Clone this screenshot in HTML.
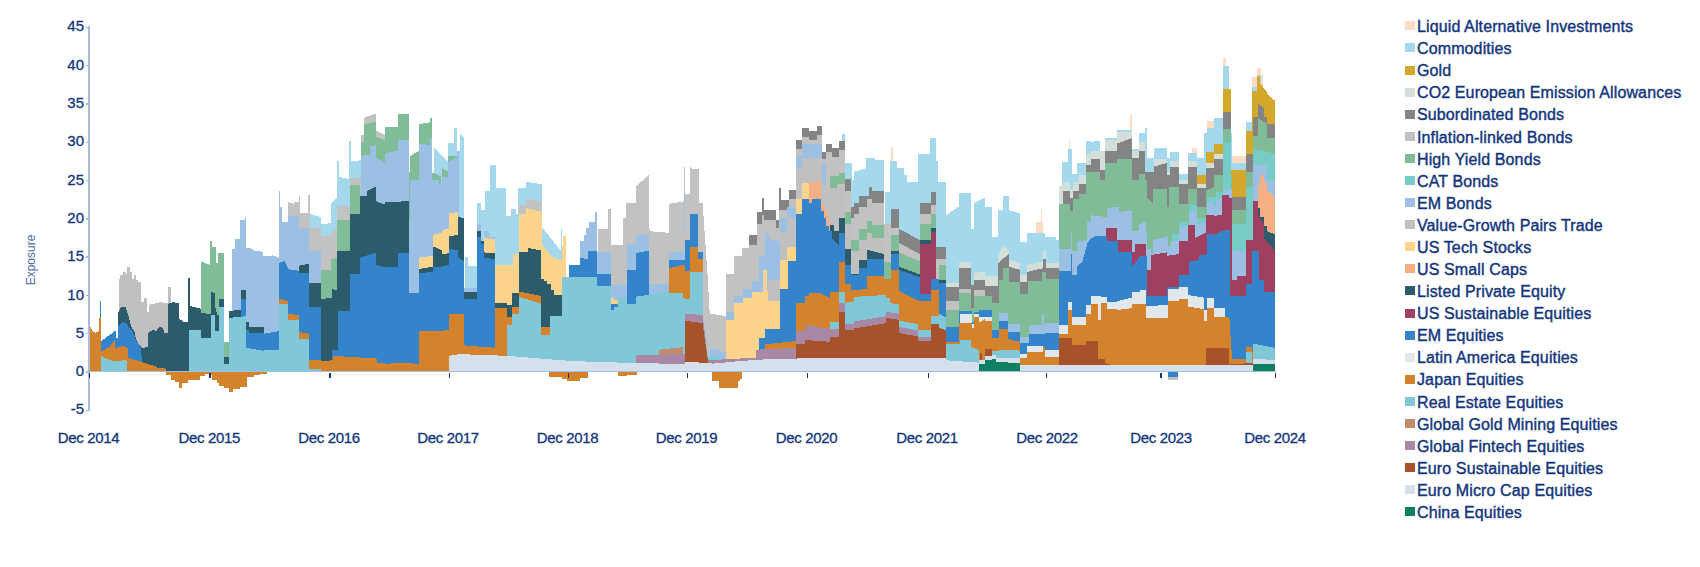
<!DOCTYPE html>
<html lang="en"><head><meta charset="utf-8"><title>Exposure</title>
<style>
html,body{margin:0;padding:0;background:#fff;}
body{width:1700px;height:567px;overflow:hidden;position:relative;font-family:"Liberation Sans",Arial,sans-serif;color:#12357c;}
svg{position:absolute;left:0;top:0;}
.lg{position:absolute;left:1405px;font-size:16px;line-height:22px;white-space:nowrap;height:22px;-webkit-text-stroke:0.4px #12357c;letter-spacing:0.12px;}
.lg i{position:absolute;left:0.2px;top:5.4px;width:9.6px;height:9px;display:block;}
.lg span{position:absolute;left:12px;top:0;}
.yl{position:absolute;width:84px;left:0;text-align:right;font-size:15px;line-height:16px;height:16px;-webkit-text-stroke:0.3px #12357c;}
.xl{position:absolute;width:120px;text-align:center;font-size:15px;line-height:16px;top:430px;-webkit-text-stroke:0.3px #12357c;letter-spacing:-0.35px;}
.ex{position:absolute;left:-19px;top:254px;width:100px;text-align:center;font-size:12px;line-height:12px;color:#4a6aa4;transform:rotate(-90deg);}
</style></head><body>
<svg width="1700" height="567" viewBox="0 0 1700 567" shape-rendering="crispEdges">
<path fill="#fcdcc4" d="M1036.2,372.0L1036.2,222.4L1041.1,222.4L1041.1,210.0L1042.4,210.0L1042.4,222.4L1043.2,222.4L1043.2,372.0Z"/>
<path fill="#fcdcc4" d="M1068.6,372.0L1068.6,140.0L1070.1,140.0L1070.1,372.0ZM1129.7,372.0L1129.7,115.3L1131.5,115.3L1131.5,372.0ZM1191.5,372.0L1191.5,147.9L1196.8,147.9L1196.8,372.0ZM1207.4,372.0L1207.4,120.6L1214.4,120.6L1214.4,372.0ZM1223.4,372.0L1223.4,57.6L1225.9,57.6L1225.9,66.4L1229.2,66.4L1229.2,372.0ZM1232.1,372.0L1232.1,155.9L1246.2,155.9L1246.2,372.0ZM1252.4,372.0L1252.4,77.0L1256.8,77.0L1256.8,68.2L1261.2,68.2L1261.2,74.7L1262.9,74.7L1262.9,372.0Z"/>
<path fill="#fcdcc4" d="M890.8,372.0L890.8,147.1L892.5,147.1L892.5,372.0Z"/>
<path fill="#a4d8ec" d="M309.1,372.0L309.1,213.5L320.6,217.1L320.6,372.0Z"/>
<path fill="#a4d8ec" d="M320.9,372.0L320.9,224.1L331.2,223.2L331.2,203.8L337.4,197.6L337.4,372.0Z"/>
<path fill="#a4d8ec" d="M336.5,372.0L336.5,161.2L338.5,161.2L338.5,176.7L348.5,178.8L348.5,141.4L350.6,141.4L350.6,161.5L360.5,160.3L360.5,143.5L363.5,143.5L363.5,372.0Z"/>
<path fill="#a4d8ec" d="M434.1,372.0L434.1,147.1L442.1,155.9L448.2,161.2L448.2,142.6L454.4,142.6L454.4,127.6L457.1,127.6L457.1,150.6L459.7,150.6L459.7,133.8L464.1,137.4L464.1,372.0Z"/>
<path fill="#a4d8ec" d="M489.7,372.0L489.7,164.7L495.9,164.7L495.9,372.0Z"/>
<path fill="#a4d8ec" d="M465.3,372.0L465.3,256.8L467.9,256.8L467.9,265.9L476.8,265.9L476.8,202.9L481.2,202.9L481.2,210.0L484.7,210.0L484.7,190.6L490.0,190.6L490.0,180.0L495.3,180.0L495.3,187.9L505.9,187.9L505.9,216.2L511.2,216.2L511.2,209.1L515.6,209.1L515.6,213.5L518.2,213.5L518.2,187.9L526.2,187.9L526.2,181.8L542.1,184.4L542.1,227.6L550.9,238.2L560.6,250.6L560.6,229.4L561.5,229.4L561.5,372.0Z"/>
<path fill="#a4d8ec" d="M946.2,372.0L946.2,215.3L958.5,206.5L958.5,193.2L970.9,193.2L970.9,229.4L974.4,229.4L974.4,202.9L985.0,197.6L985.0,372.0Z"/>
<path fill="#a4d8ec" d="M842.1,372.0L842.1,133.8L844.7,133.8L844.7,162.9L851.8,162.9L851.8,180.1L854.4,180.1L854.4,171.8L865.9,168.2L865.9,157.6L874.7,157.6L874.7,160.3L884.4,160.3L884.4,372.0ZM889.7,372.0L889.7,161.2L896.8,161.2L896.8,168.2L903.8,168.2L903.8,175.3L907.4,175.3L907.4,182.4L917.9,182.4L917.9,154.1L930.3,154.1L930.3,138.2L935.6,138.2L935.6,161.2L938.2,161.2L938.2,182.4L946.2,182.4L946.2,372.0Z"/>
<path fill="#a4d8ec" d="M985.0,372.0L985.0,206.5L992.1,206.5L992.1,237.4L998.2,237.4L998.2,210.0L1002.6,210.0L1002.6,195.9L1008.8,195.9L1008.8,210.0L1020.3,213.5L1020.3,241.8L1027.4,241.8L1027.4,232.9L1045.0,232.9L1045.0,236.5L1055.6,236.5L1055.6,240.0L1059.1,240.0L1059.1,372.0Z"/>
<path fill="#a4d8ec" d="M1061.8,372.0L1061.8,162.1L1067.9,162.1L1067.9,148.8L1071.5,148.8L1071.5,173.5L1076.8,173.5L1076.8,162.9L1085.6,162.9L1085.6,140.9L1090.9,140.9L1090.9,141.8L1099.7,140.9L1099.7,150.6L1105.0,150.6L1105.0,138.2L1117.4,138.2L1117.4,130.3L1131.5,130.3L1131.5,148.8L1138.5,148.8L1138.5,132.9L1144.7,132.9L1144.7,127.6L1147.4,127.6L1147.4,157.6L1154.4,157.6L1154.4,147.9L1166.8,147.9L1166.8,157.6L1170.3,157.6L1170.3,152.4L1179.1,152.4L1179.1,173.5L1187.9,173.5L1187.9,153.2L1196.8,153.2L1196.8,157.6L1203.8,157.6L1203.8,132.9L1207.4,132.9L1207.4,127.6L1214.4,127.6L1214.4,117.9L1223.4,117.9L1223.4,66.4L1229.2,66.4L1229.2,89.4L1230.6,89.4L1230.6,132.9L1232.1,132.9L1232.1,162.9L1246.2,162.9L1246.2,121.5L1251.5,121.5L1251.5,87.1L1256.8,87.1L1256.8,75.2L1261.2,75.2L1261.2,372.0Z"/>
<path fill="#a4d8ec" d="M884.9,372.0L884.9,192.4L890.2,192.4L890.2,372.0Z"/>
<path fill="#d4a82c" d="M1196.8,372.0L1196.8,175.3L1205.6,175.3L1205.6,152.4L1214.4,152.4L1214.4,144.4L1223.2,144.4L1223.2,89.4L1230.6,89.4L1230.6,170.0L1246.2,170.0L1246.2,131.2L1251.5,131.2L1251.5,90.6L1256.8,90.6L1256.8,76.3L1260.3,76.3L1260.3,83.5L1267.4,92.4L1267.4,94.1L1275.3,101.2L1275.3,372.0Z"/>
<path fill="#d3dfd8" d="M946.2,372.0L946.2,282.6L959.4,282.6L959.4,372.0Z"/>
<path fill="#d3dfd8" d="M959.4,372.0L959.4,262.1L970.9,262.1L970.9,372.0ZM974.4,372.0L974.4,273.5L985.0,270.9L985.0,372.0Z"/>
<path fill="#d3dfd8" d="M985.0,372.0L985.0,276.2L998.2,276.2L998.2,254.1L1004.4,245.3L1008.8,250.6L1008.8,259.4L1020.3,262.9L1020.3,275.3L1027.4,275.3L1027.4,264.7L1043.2,261.2L1043.2,250.6L1045.9,250.6L1045.9,262.9L1059.1,262.9L1059.1,372.0Z"/>
<path fill="#d3dfd8" d="M1059.1,372.0L1059.1,185.9L1062.6,185.9L1062.6,182.4L1069.7,182.4L1069.7,189.4L1073.2,189.4L1073.2,182.4L1078.5,182.4L1078.5,175.3L1085.6,175.3L1085.6,154.1L1090.9,154.1L1090.9,150.6L1105.0,150.6L1105.0,140.0L1117.4,140.0L1117.4,132.1L1131.5,132.1L1131.5,150.6L1138.5,150.6L1138.5,141.8L1144.7,141.8L1144.7,171.8L1154.4,171.8L1154.4,159.4L1166.8,159.4L1166.8,171.8L1170.3,171.8L1170.3,161.2L1179.1,161.2L1179.1,180.1L1187.9,180.1L1187.9,161.2L1196.8,161.2L1196.8,184.1L1205.6,184.1L1205.6,162.9L1214.4,162.9L1214.4,154.1L1223.2,154.1L1223.2,372.0Z"/>
<path fill="#848484" d="M946.2,372.0L946.2,287.1L959.4,287.1L959.4,372.0ZM971.2,372.0L971.2,285.3L973.9,285.3L973.9,372.0Z"/>
<path fill="#848484" d="M974.4,372.0L974.4,279.7L985.0,279.7L985.0,372.0Z"/>
<path fill="#848484" d="M748.5,372.0L748.5,235.1L757.4,235.1L757.4,211.8L761.8,211.8L761.8,197.6L764.4,197.6L764.4,209.6L775.9,209.6L775.9,220.2L779.4,220.2L779.4,187.9L781.2,187.9L781.2,199.8L789.1,199.8L789.1,189.7L796.2,189.7L796.2,372.0ZM844.7,372.0L844.7,178.8L850.9,178.8L850.9,206.5L854.4,206.5L854.4,202.9L858.8,202.9L858.8,195.9L868.5,195.9L868.5,187.1L872.1,187.1L872.1,190.6L884.4,190.6L884.4,372.0ZM890.6,372.0L890.6,209.1L898.5,209.1L898.5,228.5L919.7,240.0L919.7,202.9L931.2,202.9L931.2,191.5L935.6,191.5L935.6,247.1L946.2,247.1L946.2,372.0ZM959.4,372.0L959.4,268.2L970.9,268.2L970.9,372.0Z"/>
<path fill="#848484" d="M796.2,372.0L796.2,140.0L801.5,140.0L801.5,127.6L808.5,127.6L808.5,131.2L816.5,131.2L816.5,125.9L821.8,125.9L821.8,152.4L826.2,152.4L826.2,143.5L831.5,143.5L831.5,147.9L838.5,147.9L838.5,140.9L844.7,140.9L844.7,372.0Z"/>
<path fill="#848484" d="M985.0,372.0L985.0,285.9L998.2,285.9L998.2,262.9L1008.8,254.1L1008.8,266.5L1020.3,270.0L1020.3,282.4L1027.4,282.4L1027.4,271.8L1043.2,268.2L1043.2,259.4L1045.9,259.4L1045.9,268.2L1059.1,268.2L1059.1,372.0Z"/>
<path fill="#848484" d="M1062.6,372.0L1062.6,190.6L1069.7,190.6L1069.7,197.7L1073.2,197.7L1073.2,190.6L1078.5,190.6L1078.5,183.6L1085.6,183.6L1085.6,164.7L1090.9,164.7L1090.9,159.4L1099.7,159.4L1099.7,170.0L1105.0,170.0L1105.0,150.6L1117.4,150.6L1117.4,143.5L1131.5,138.2L1131.5,157.6L1138.5,157.6L1138.5,150.6L1144.7,150.6L1144.7,171.8L1154.4,171.8L1154.4,166.5L1166.8,162.9L1166.8,175.3L1170.3,175.3L1170.3,166.5L1179.1,166.5L1179.1,183.6L1187.9,183.6L1187.9,166.5L1196.8,166.5L1196.8,188.0L1205.6,188.0L1205.6,168.2L1214.4,168.2L1214.4,159.4L1223.2,159.4L1223.2,111.8L1231.2,111.8L1231.2,178.8L1232.1,178.8L1232.1,196.8L1246.2,196.8L1246.2,154.1L1253.2,154.1L1253.2,117.1L1257.6,117.1L1257.6,102.9L1263.8,108.2L1263.8,117.1L1267.4,117.1L1267.4,124.1L1275.3,124.1L1275.3,372.0Z"/>
<path fill="#c2c2c2" d="M287.9,372.0L287.9,202.1L294.1,203.8L294.1,202.1L298.9,202.1L298.9,195.9L300.3,195.9L300.3,212.6L307.7,213.5L307.7,195.0L309.5,195.0L309.5,227.6L320.6,227.6L320.6,372.0Z"/>
<path fill="#c2c2c2" d="M320.9,372.0L320.9,236.5L331.2,234.7L331.2,232.9L337.4,227.6L337.4,205.6L349.7,205.6L349.7,372.0Z"/>
<path fill="#c2c2c2" d="M349.8,372.0L349.8,178.3L360.5,178.3L360.5,134.7L363.5,134.7L363.5,117.9L375.9,113.5L375.9,130.3L384.7,134.7L384.7,372.0Z"/>
<path fill="#c2c2c2" d="M519.1,372.0L519.1,204.7L526.2,204.7L526.2,198.5L542.1,202.1L542.1,372.0ZM597.6,372.0L597.6,228.5L608.2,228.5L608.2,209.1L610.5,209.1L610.5,245.3L623.2,245.3L623.2,217.9L625.9,217.9L625.9,202.9L635.6,202.9L635.6,186.5L648.8,175.1L648.8,228.5L649.7,228.5L649.7,231.2L669.1,232.9L669.1,203.8L685.0,201.2L685.0,372.0Z"/>
<path fill="#c2c2c2" d="M707.9,372.0L707.9,280.0L709.7,313.5L725.6,316.2L725.6,274.4L727.4,274.4L727.4,372.0Z"/>
<path fill="#c2c2c2" d="M946.2,372.0L946.2,301.2L959.4,301.2L959.4,289.2L970.9,289.2L970.9,372.0Z"/>
<path fill="#c2c2c2" d="M973.9,372.0L973.9,290.1L985.0,290.1L985.0,372.0Z"/>
<path fill="#c2c2c2" d="M685.0,372.0L685.0,194.1L690.3,194.1L690.3,169.4L699.1,169.4L699.1,202.9L702.6,202.9L707.9,280.1L707.9,372.0ZM727.4,372.0L727.4,274.4L734.4,274.4L734.4,255.9L741.5,255.9L741.5,247.9L748.5,247.9L748.5,244.9L757.4,244.9L757.4,224.1L761.8,224.1L761.8,215.3L764.4,215.3L764.4,220.2L775.9,220.2L775.9,227.6L779.4,227.6L779.4,210.0L789.1,210.0L789.1,199.4L796.2,199.4L796.2,372.0ZM844.7,372.0L844.7,190.6L850.9,190.6L850.9,217.9L854.4,217.9L854.4,213.5L858.8,213.5L858.8,206.5L866.8,206.5L866.8,199.4L872.1,199.4L872.1,202.9L884.4,202.9L884.4,224.1L890.6,224.1L890.6,227.6L898.5,227.6L898.5,242.6L919.7,254.1L919.7,214.4L931.2,214.4L931.2,204.7L935.6,204.7L935.6,258.5L946.2,258.5L946.2,372.0Z"/>
<path fill="#c2c2c2" d="M690.3,372.0L690.3,167.4L699.1,171.8L699.1,372.0Z"/>
<path fill="#c2c2c2" d="M796.2,372.0L796.2,148.8L801.5,148.8L801.5,136.5L808.5,136.5L808.5,140.0L816.5,140.0L816.5,134.7L821.8,134.7L821.8,159.4L826.2,159.4L826.2,152.4L831.5,152.4L831.5,156.8L838.5,156.8L838.5,149.7L844.7,149.7L844.7,372.0Z"/>
<path fill="#c2c2c2" d="M683.8,191.0L683.8,167.1L684.8,167.1L684.8,191.0Z"/>
<path fill="#80bc98" d="M223.5,356.8L223.5,341.8L229.1,341.8L229.1,356.8Z"/>
<path fill="#80bc98" d="M200.6,372.0L200.6,261.2L209.4,264.7L210.3,264.7L210.3,240.9L211.7,240.9L211.7,247.1L215.6,247.1L215.6,262.9L218.2,262.9L218.2,253.2L223.5,253.2L223.5,257.6L224.4,257.6L224.4,372.0Z"/>
<path fill="#80bc98" d="M320.9,372.0L320.9,270.0L331.2,270.0L331.2,259.4L337.4,257.6L337.4,219.7L349.7,219.7L349.7,185.3L360.3,185.3L360.3,372.0Z"/>
<path fill="#80bc98" d="M360.9,372.0L360.9,141.8L363.5,141.8L363.5,125.0L375.9,121.5L375.9,136.5L384.7,140.0L384.7,126.8L397.9,126.8L397.9,114.4L408.5,114.4L408.5,171.8L410.3,171.8L410.3,155.9L419.1,150.6L419.1,124.1L429.7,122.4L429.7,117.9L432.4,117.9L432.4,172.6L441.2,176.2L441.2,372.0Z"/>
<path fill="#80bc98" d="M442.1,372.0L442.1,168.2L448.2,171.8L448.2,155.9L457.1,155.9L457.1,372.0Z"/>
<path fill="#80bc98" d="M946.2,372.0L946.2,310.0L959.4,310.0L959.4,293.2L971.2,293.2L971.2,307.7L973.9,307.7L973.9,296.2L985.0,296.2L985.0,372.0Z"/>
<path fill="#80bc98" d="M844.7,372.0L844.7,211.8L850.9,211.8L850.9,240.0L858.8,240.0L858.8,229.4L866.8,229.4L866.8,220.6L872.1,220.6L872.1,225.0L884.4,225.0L884.4,262.1L890.6,262.1L890.6,234.7L898.5,234.7L898.5,252.4L919.7,261.2L919.7,224.1L931.2,224.1L931.2,213.5L935.6,213.5L935.6,372.0ZM939.1,372.0L939.1,264.7L946.2,264.7L946.2,372.0Z"/>
<path fill="#80bc98" d="M829.7,372.0L829.7,176.2L838.5,176.2L838.5,172.6L844.7,172.6L844.7,372.0Z"/>
<path fill="#80bc98" d="M985.0,372.0L985.0,296.3L992.1,296.3L992.1,303.4L999.1,303.4L999.1,280.1L1002.6,280.1L1002.6,268.2L1008.8,268.2L1008.8,281.5L1020.3,281.5L1020.3,294.2L1028.2,294.2L1028.2,280.6L1041.5,280.6L1041.5,271.8L1045.9,271.8L1045.9,278.8L1059.1,278.8L1059.1,372.0Z"/>
<path fill="#80bc98" d="M1059.1,372.0L1059.1,203.8L1069.7,203.8L1069.7,210.9L1073.2,210.9L1073.2,199.4L1078.5,199.4L1078.5,194.1L1085.6,194.1L1085.6,171.7L1099.7,171.7L1099.7,180.0L1105.0,180.0L1105.0,162.9L1117.4,162.9L1117.4,158.5L1131.5,158.5L1131.5,180.0L1138.5,180.0L1138.5,173.5L1144.7,173.5L1144.7,180.0L1147.4,180.0L1147.4,197.6L1152.6,202.9L1152.6,188.8L1166.8,188.8L1166.8,206.5L1168.5,206.5L1168.5,187.1L1179.1,187.1L1179.1,203.8L1187.9,203.8L1187.9,188.8L1196.8,188.8L1196.8,206.5L1205.6,206.5L1205.6,190.6L1214.4,187.1L1214.4,175.2L1223.2,175.2L1223.2,129.4L1231.2,129.4L1231.2,175.2L1232.1,175.2L1232.1,210.0L1246.2,210.0L1246.2,171.7L1253.2,171.7L1253.2,136.4L1257.6,136.4L1257.6,117.9L1267.4,124.1L1267.4,138.2L1275.3,138.2L1275.3,372.0Z"/>
<path fill="#78ccc8" d="M1172.1,372.0L1172.1,233.8L1179.1,233.8L1179.1,221.5L1188.8,221.5L1188.8,204.7L1196.8,204.7L1196.8,217.9L1206.5,217.9L1206.5,196.8L1216.2,196.8L1216.2,192.4L1223.2,192.4L1223.2,141.7L1231.2,141.7L1231.2,224.1L1246.2,224.1L1246.2,187.1L1253.2,187.1L1253.2,148.8L1275.3,154.1L1275.3,372.0Z"/>
<path fill="#9cc0e4" d="M231.5,372.0L231.5,248.8L235.0,248.8L235.0,239.1L240.3,239.1L240.3,219.7L244.7,219.7L244.7,217.1L245.9,217.1L245.9,247.9L250.0,247.9L254.4,250.6L261.5,251.5L263.2,251.5L263.2,255.9L268.5,255.9L272.1,255.9L272.1,255.0L278.6,257.6L278.6,190.6L280.0,190.6L280.0,206.5L281.8,206.5L281.8,221.5L287.9,222.4L287.9,216.2L299.4,216.2L299.4,227.6L309.1,227.6L309.1,250.6L320.6,250.6L320.6,372.0Z"/>
<path fill="#9cc0e4" d="M360.9,372.0L360.9,155.9L363.5,155.9L363.5,155.0L369.7,155.0L369.7,146.2L375.9,145.3L375.9,157.6L384.7,162.9L384.7,153.2L397.9,150.6L397.9,140.0L408.5,140.0L408.5,220.6L409.9,220.6L409.9,180.1L419.1,180.1L419.1,143.5L429.7,145.3L429.7,138.2L432.4,138.2L432.4,180.1L438.5,180.1L438.5,184.1L442.1,184.1L442.1,177.1L448.2,177.1L448.2,162.1L457.1,157.6L457.1,150.6L458.8,150.6L458.8,372.0Z"/>
<path fill="#9cc0e4" d="M464.4,372.0L464.4,287.9L476.8,287.9L476.8,372.0Z"/>
<path fill="#9cc0e4" d="M476.8,372.0L476.8,224.1L481.2,224.1L481.2,240.9L483.8,240.9L483.8,231.2L489.1,231.2L489.1,237.4L495.3,237.4L495.3,372.0ZM580.0,372.0L580.0,240.9L583.5,240.9L583.5,234.7L586.2,234.7L586.2,227.6L588.8,227.6L588.8,222.4L595.0,222.4L595.0,211.8L596.8,211.8L596.8,252.4L610.5,252.4L610.5,284.5L626.8,284.5L626.8,243.5L635.6,243.5L635.6,234.7L648.8,234.7L648.8,283.6L669.1,283.6L669.1,253.2L685.0,250.6L685.0,372.0Z"/>
<path fill="#9cc0e4" d="M709.7,372.0L709.7,348.8L718.5,348.8L718.5,351.5L725.6,351.5L725.6,311.8L734.4,311.8L734.4,295.9L743.2,295.9L743.2,288.8L752.1,288.8L752.1,280.9L762.6,280.9L762.6,372.0Z"/>
<path fill="#9cc0e4" d="M752.1,372.0L752.1,280.9L759.1,280.9L759.1,255.9L765.3,255.9L765.3,232.9L768.8,232.9L768.8,238.2L780.3,241.8L780.3,217.9L787.4,217.9L787.4,206.5L796.2,206.5L796.2,372.0Z"/>
<path fill="#9cc0e4" d="M796.2,372.0L796.2,155.9L801.5,155.9L801.5,144.4L821.8,144.4L821.8,162.9L826.2,162.9L826.2,372.0Z"/>
<path fill="#9cc0e4" d="M999.1,372.0L999.1,312.6L1007.9,312.6L1007.9,324.1L1020.3,324.1L1020.3,336.5L1029.1,336.5L1029.1,325.0L1041.5,325.0L1041.5,314.4L1044.1,314.4L1044.1,325.0L1045.0,325.0L1045.0,323.2L1059.1,323.2L1059.1,372.0Z"/>
<path fill="#9cc0e4" d="M1059.1,372.0L1059.1,248.8L1070.6,248.8L1070.6,232.9L1072.4,232.9L1072.4,250.6L1076.8,250.6L1076.8,241.8L1087.4,240.0L1087.4,221.5L1090.9,221.5L1090.9,215.3L1106.8,217.1L1106.8,208.2L1119.1,206.5L1119.1,211.8L1132.4,210.9L1132.4,231.2L1138.5,231.2L1138.5,224.1L1142.1,224.1L1142.1,222.4L1145.6,222.4L1145.6,232.9L1146.5,232.9L1146.5,248.8L1150.9,248.8L1150.9,254.1L1152.6,254.1L1152.6,240.0L1166.8,236.5L1166.8,234.7L1167.6,234.7L1167.6,247.1L1170.3,247.1L1170.3,241.8L1179.1,240.0L1179.1,227.6L1188.8,225.9L1188.8,211.8L1196.8,210.9L1196.8,224.1L1206.5,222.4L1206.5,202.9L1214.4,202.1L1214.4,205.6L1216.2,205.6L1216.2,199.4L1223.2,198.5L1223.2,190.6L1232.1,188.8L1232.1,250.6L1246.2,250.6L1246.2,372.0ZM1253.2,372.0L1253.2,164.6L1267.4,164.6L1267.4,180.0L1275.3,180.0L1275.3,372.0Z"/>
<path fill="#9cc0e4" d="M683.8,227.6L683.8,190.6L684.8,190.6L684.8,227.6Z"/>
<path fill="#c0c0c0" d="M118.5,372.0L118.5,278.8L120.3,278.8L120.3,275.3L122.9,275.3L122.9,271.8L125.6,271.8L125.6,274.4L127.4,274.4L127.4,267.4L130.0,267.4L130.0,271.8L131.8,271.8L131.8,278.8L134.4,278.8L134.4,275.3L136.2,275.3L136.2,279.7L137.9,279.7L137.9,282.4L141.1,282.4L141.1,301.8L144.1,301.8L144.1,298.2L146.8,298.2L146.8,312.4L148.5,312.4L148.5,304.8L159.1,302.6L159.1,302.1L167.9,303.5L167.9,287.1L170.6,287.1L170.6,372.0Z"/>
<path fill="#c0c0c0" d="M767.9,372.0L767.9,280.1L780.3,280.1L780.3,232.1L787.4,232.1L787.4,217.9L796.2,217.9L796.2,372.0ZM844.7,372.0L844.7,224.1L850.9,224.1L850.9,250.6L858.8,250.6L858.8,240.0L866.8,240.0L866.8,232.9L872.1,232.9L872.1,238.2L884.4,238.2L884.4,372.0Z"/>
<path fill="#c0c0c0" d="M796.2,372.0L796.2,168.2L801.5,168.2L801.5,157.6L821.8,157.6L821.8,185.4L826.2,185.4L826.2,188.0L836.8,188.0L836.8,183.6L844.7,183.6L844.7,372.0Z"/>
<path fill="#c0c0c0" d="M1167.6,372.0L1167.6,379.6L1178.2,379.6L1178.2,372.0Z"/>
<path fill="#fcd48c" d="M610.9,372.0L610.9,297.6L614.4,297.6L614.4,300.3L617.9,300.3L617.9,372.0Z"/>
<path fill="#fcd48c" d="M419.4,372.0L419.4,257.6L432.6,255.9L432.6,234.7L442.4,232.9L442.4,230.3L449.4,228.5L449.4,213.5L458.2,211.8L458.2,372.0ZM483.8,372.0L483.8,237.4L495.3,239.1L495.3,264.7L512.9,264.7L512.9,254.1L519.1,254.1L519.1,214.4L526.2,214.4L526.2,208.2L542.1,211.8L542.1,244.4L552.6,257.6L561.5,260.3L561.5,246.2L563.2,246.2L563.2,235.6L565.9,235.6L565.9,372.0Z"/>
<path fill="#fcd48c" d="M725.6,372.0L725.6,319.7L734.4,319.7L734.4,302.9L743.2,302.9L743.2,297.6L752.1,297.6L752.1,292.4L762.6,292.4L762.6,269.9L767.1,269.9L767.1,290.6L767.9,290.6L767.9,301.2L780.3,301.2L780.3,372.0Z"/>
<path fill="#fcd48c" d="M780.3,372.0L780.3,260.3L787.4,260.3L787.4,247.1L796.2,247.1L796.2,198.5L802.4,198.5L802.4,182.6L808.5,182.6L808.5,372.0Z"/>
<path fill="#f4b084" d="M808.5,372.0L808.5,183.5L820.9,180.0L820.9,202.9L824.4,202.9L824.4,209.1L827.1,209.1L827.1,216.2L829.4,216.2L829.4,224.1L831.5,224.1L831.5,232.9L833.2,232.9L833.2,372.0Z"/>
<path fill="#f4b084" d="M1257.6,372.0L1257.6,183.5L1260.3,183.5L1260.3,175.2L1263.8,175.2L1263.8,181.8L1267.4,181.8L1267.4,190.6L1275.3,197.6L1275.3,372.0Z"/>
<path fill="#2c5c6c" d="M117.6,372.0L117.6,313.5L120.3,308.2L122.9,306.5L125.9,307.4L127.4,312.6L129.1,317.9L131.2,326.8L134.4,331.2L136.2,340.0L139.7,345.3L142.4,347.9L146.8,347.1L148.2,347.1L148.2,332.9L150.6,331.2L153.8,329.4L156.5,331.2L159.1,326.8L162.6,327.6L164.4,332.9L167.9,332.9L167.9,303.8L173.2,302.1L177.6,302.9L179.4,302.9L179.4,318.8L183.8,322.0L188.2,321.5L188.2,372.0Z"/>
<path fill="#2c5c6c" d="M188.2,372.0L188.2,321.5L188.9,321.5L188.9,305.9L200.9,308.6L200.9,312.6L211.1,314.4L211.1,291.5L215.0,293.2L215.0,306.5L217.6,315.3L219.4,315.3L219.4,298.5L223.5,298.5L223.5,372.0ZM229.1,372.0L229.1,310.9L240.6,310.0L240.6,289.7L245.9,289.7L245.9,322.4L249.4,322.4L249.4,326.8L263.5,326.8L263.5,372.0Z"/>
<path fill="#2c5c6c" d="M309.4,372.0L309.4,282.6L320.5,282.6L320.5,372.0ZM320.7,372.0L320.7,299.4L331.5,297.6L331.5,288.8L337.6,290.6L337.6,372.0Z"/>
<path fill="#2c5c6c" d="M223.5,363.8L223.5,356.8L229.1,356.8L229.1,363.8Z"/>
<path fill="#2c5c6c" d="M188.2,372.0L188.2,277.9L189.6,277.9L189.6,372.0Z"/>
<path fill="#2c5c6c" d="M299.4,372.0L299.4,265.6L309.1,263.8L309.1,372.0Z"/>
<path fill="#2c5c6c" d="M337.4,372.0L337.4,250.6L349.7,250.6L349.7,213.5L360.3,213.5L360.3,195.9L367.4,195.9L367.4,190.6L374.4,187.1L376.2,187.1L376.2,201.2L385.0,204.7L385.0,372.0Z"/>
<path fill="#2c5c6c" d="M464.4,372.0L464.4,292.4L476.8,292.4L476.8,372.0ZM495.3,372.0L495.3,302.9L506.8,302.9L506.8,304.7L512.1,304.7L512.1,293.2L519.1,293.2L519.1,372.0ZM543.8,372.0L543.8,280.9L547.4,280.9L547.4,284.4L550.9,284.4L550.9,289.7L554.4,289.7L554.4,295.0L561.5,295.0L561.5,372.0Z"/>
<path fill="#2c5c6c" d="M385.0,372.0L385.0,202.1L408.8,201.2L408.8,372.0ZM419.4,372.0L419.4,269.1L432.6,266.5L432.6,246.2L442.4,250.6L442.4,254.1L449.4,253.2L449.4,236.5L458.2,234.7L458.2,217.1L464.4,217.9L464.4,372.0ZM476.8,372.0L476.8,231.2L481.2,231.2L481.2,240.9L483.8,240.9L483.8,252.4L495.3,253.2L495.3,372.0ZM519.1,372.0L519.1,252.4L527.9,252.4L527.9,247.9L541.2,250.6L541.2,278.8L543.8,278.8L543.8,372.0Z"/>
<path fill="#2c5c6c" d="M939.1,372.0L939.1,280.0L946.2,280.0L946.2,372.0Z"/>
<path fill="#2c5c6c" d="M829.7,372.0L829.7,225.0L834.1,225.0L834.1,231.2L838.5,231.2L838.5,217.9L844.7,217.9L844.7,248.8L850.9,248.8L850.9,273.5L858.8,273.5L858.8,260.3L866.8,260.3L866.8,249.7L884.4,254.1L884.4,372.0ZM890.6,372.0L890.6,250.6L898.5,250.6L898.5,266.5L919.7,274.4L919.7,240.0L931.2,240.0L931.2,227.6L935.6,227.6L935.6,372.0Z"/>
<path fill="#2c5c6c" d="M1257.6,372.0L1257.6,208.2L1260.3,208.2L1260.3,217.1L1263.8,217.1L1263.8,225.9L1267.4,225.9L1267.4,231.2L1275.3,234.7L1275.3,372.0Z"/>
<path fill="#a04060" d="M919.7,372.0L919.7,244.4L931.2,244.4L931.2,232.1L935.6,232.1L935.6,372.0Z"/>
<path fill="#a04060" d="M1105.9,372.0L1105.9,227.6L1117.4,227.6L1117.4,240.0L1131.5,240.0L1131.5,252.4L1135.0,252.4L1135.0,244.4L1140.3,244.4L1140.3,243.5L1145.6,243.5L1145.6,270.0L1150.9,270.0L1150.9,255.0L1166.8,252.4L1166.8,255.9L1179.1,254.1L1179.1,240.9L1187.9,240.9L1187.9,225.0L1195.0,225.0L1195.0,238.2L1205.6,232.9L1205.6,215.3L1214.4,215.3L1214.4,216.2L1222.4,214.4L1222.4,195.0L1229.4,195.0L1229.4,197.6L1232.1,197.6L1232.1,280.1L1237.4,280.1L1237.4,276.2L1246.2,276.2L1246.2,240.0L1253.2,240.0L1253.2,201.2L1257.6,201.2L1257.6,214.4L1263.8,224.1L1263.8,238.2L1275.3,250.6L1275.3,372.0Z"/>
<path fill="#3484cc" d="M99.5,372.0L99.5,301.2L101.2,301.2L101.2,372.0Z"/>
<path fill="#3484cc" d="M100.5,372.0L100.5,341.8L106.2,337.4L111.5,333.8L114.1,331.2L115.9,331.2L115.9,338.2L117.6,338.2L117.6,327.6L120.3,324.1L122.9,322.0L126.5,323.2L129.1,327.6L132.6,331.2L135.3,338.2L137.9,343.5L141.1,347.9L141.8,360.3L141.8,372.0Z"/>
<path fill="#3484cc" d="M240.6,372.0L240.6,299.4L245.9,299.4L245.9,330.3L249.4,330.3L249.4,332.9L263.5,332.9L263.5,333.8L278.5,331.2L278.5,372.0Z"/>
<path fill="#3484cc" d="M309.4,372.0L309.4,306.5L320.5,306.5L320.5,372.0Z"/>
<path fill="#3484cc" d="M331.5,372.0L331.5,349.7L337.6,349.7L337.6,310.9L350.0,310.9L350.0,372.0Z"/>
<path fill="#3484cc" d="M279.1,372.0L279.1,262.9L284.4,261.2L287.9,268.2L287.9,269.1L299.4,270.9L299.4,272.6L309.1,272.6L309.1,372.0Z"/>
<path fill="#3484cc" d="M349.7,372.0L349.7,274.4L360.3,274.4L360.3,257.6L376.2,252.4L376.2,264.7L385.0,267.4L385.0,372.0Z"/>
<path fill="#3484cc" d="M408.8,372.0L408.8,293.2L419.4,293.2L419.4,372.0ZM464.4,372.0L464.4,299.4L476.8,299.4L476.8,372.0Z"/>
<path fill="#3484cc" d="M610.9,372.0L610.9,303.8L617.9,303.8L617.9,372.0Z"/>
<path fill="#3484cc" d="M385.0,372.0L385.0,266.5L398.2,266.5L398.2,253.2L408.8,253.2L408.8,372.0ZM419.4,372.0L419.4,273.5L432.6,271.8L432.6,267.4L442.4,267.4L442.4,266.5L449.4,264.7L449.4,248.8L458.2,250.6L458.2,257.6L464.4,261.2L464.4,372.0ZM476.8,372.0L476.8,237.4L481.2,237.4L481.2,243.5L483.8,243.5L483.8,257.6L495.3,259.4L495.3,372.0ZM569.4,372.0L569.4,264.7L580.0,264.7L580.0,257.6L587.9,259.4L587.9,250.6L596.8,250.6L596.8,274.4L610.9,274.4L610.9,372.0ZM626.8,372.0L626.8,270.0L635.6,270.0L635.6,253.2L648.8,250.6L648.8,372.0ZM669.1,372.0L669.1,260.3L685.0,260.3L685.0,372.0Z"/>
<path fill="#3484cc" d="M759.1,372.0L759.1,338.2L765.3,338.2L765.3,329.4L780.3,329.4L780.3,288.8L788.2,288.8L788.2,372.0ZM917.9,372.0L917.9,294.1L931.2,294.1L931.2,279.1L939.1,279.1L939.1,282.6L946.2,282.6L946.2,326.8L959.4,326.8L959.4,310.9L971.8,310.9L971.8,322.4L974.4,322.4L974.4,312.1L979.2,312.1L979.2,309.8L985.0,309.8L985.0,372.0Z"/>
<path fill="#3484cc" d="M685.0,372.0L685.0,240.0L690.3,240.0L690.3,213.5L698.2,213.5L698.2,252.4L702.6,252.4L702.6,372.0ZM788.2,372.0L788.2,261.2L796.2,261.2L796.2,214.4L801.5,214.4L801.5,199.4L808.5,199.4L808.5,202.9L812.1,202.9L812.1,198.5L820.9,198.5L820.9,210.9L823.5,210.9L823.5,217.9L826.2,217.9L826.2,225.9L828.8,225.9L828.8,231.2L831.5,231.2L831.5,238.2L838.5,245.3L838.5,232.9L844.7,232.9L844.7,264.7L850.9,264.7L850.9,275.3L858.8,275.3L858.8,268.2L866.8,268.2L866.8,259.4L884.4,259.4L884.4,372.0ZM890.6,372.0L890.6,254.1L898.5,254.1L898.5,270.0L919.7,277.1L919.7,372.0Z"/>
<path fill="#3484cc" d="M985.0,372.0L985.0,310.0L992.1,310.0L992.1,330.3L999.1,330.3L999.1,320.6L1007.9,320.6L1007.9,332.1L1020.3,332.1L1020.3,342.6L1029.1,342.6L1029.1,333.8L1045.0,333.8L1045.0,332.9L1059.1,332.9L1059.1,372.0Z"/>
<path fill="#3484cc" d="M1059.1,372.0L1059.1,270.9L1070.6,270.9L1070.6,254.1L1072.4,254.1L1072.4,275.3L1076.8,275.3L1076.8,266.5L1082.1,262.1L1087.4,243.5L1090.9,238.2L1097.9,235.6L1106.8,235.6L1106.8,240.9L1118.2,240.9L1118.2,252.4L1132.4,252.4L1132.4,266.5L1140.3,255.9L1146.5,255.9L1146.5,295.9L1166.8,295.9L1166.8,287.1L1179.1,287.1L1179.1,275.3L1188.8,275.3L1188.8,261.2L1198.5,260.3L1198.5,255.9L1207.4,254.1L1207.4,233.8L1214.4,234.7L1221.5,231.2L1230.3,229.4L1230.3,295.9L1246.2,295.9L1246.2,283.6L1251.5,283.6L1251.5,250.6L1258.5,250.6L1258.5,280.1L1263.8,280.1L1263.8,292.4L1275.3,292.4L1275.3,372.0Z"/>
<path fill="#3484cc" d="M1167.6,372.0L1167.6,376.5L1178.2,376.5L1178.2,372.0Z"/>
<path fill="#e0e8ec" d="M960.3,372.0L960.3,314.4L971.8,314.4L971.8,324.1L974.4,324.1L974.4,313.9L979.2,313.9L979.2,317.4L985.0,317.4L985.0,372.0Z"/>
<path fill="#e0e8ec" d="M985.0,372.0L985.0,317.4L991.5,317.4L991.5,372.0ZM992.1,372.0L992.1,353.2L1020.3,353.2L1020.3,354.1L1027.4,354.1L1027.4,346.2L1043.2,346.2L1043.2,349.7L1059.1,349.7L1059.1,372.0Z"/>
<path fill="#e0e8ec" d="M1059.1,372.0L1059.1,325.0L1067.9,325.0L1067.9,302.1L1071.5,302.1L1071.5,317.1L1085.6,317.1L1085.6,304.7L1090.9,304.7L1090.9,295.9L1100.6,295.9L1100.6,296.8L1106.8,296.8L1106.8,302.1L1117.4,302.1L1117.4,301.2L1131.5,297.6L1131.5,292.4L1140.3,292.4L1140.3,289.7L1145.6,289.7L1145.6,306.5L1167.6,304.7L1167.6,288.8L1179.1,288.8L1179.1,287.1L1187.9,287.1L1187.9,295.0L1203.8,297.6L1203.8,310.0L1207.4,310.0L1207.4,297.6L1214.4,297.6L1214.4,308.2L1225.0,308.2L1225.0,372.0Z"/>
<path fill="#e0e8ec" d="M978.8,372.0L978.8,356.2L985.0,356.2L985.0,372.0Z"/>
<path fill="#d4822c" d="M88.9,372.0L88.9,324.1L92.9,331.2L95.9,332.9L99.1,330.3L99.1,317.9L101.2,317.9L101.2,372.0Z"/>
<path fill="#d4822c" d="M100.5,372.0L100.5,352.4L104.4,349.7L109.7,346.7L113.2,341.8L115.4,340.9L115.4,347.9L120.3,347.1L122.9,345.6L126.5,347.9L128.2,347.9L128.2,357.6L132.6,359.4L137.9,360.8L143.2,362.6L148.5,364.4L155.6,366.1L157.4,367.7L166.2,368.6L166.2,372.0Z"/>
<path fill="#d4822c" d="M278.5,372.0L278.5,298.5L288.2,301.2L288.2,313.5L299.4,315.3L299.4,332.1L309.4,333.8L309.4,360.3L320.5,360.3L320.5,361.2L333.2,360.3L333.2,355.9L376.5,358.5L376.5,362.9L385.1,362.9L385.1,372.0Z"/>
<path fill="#d4822c" d="M385.0,372.0L385.0,363.8L407.9,362.6L419.4,364.7L419.4,331.5L449.4,330.3L449.4,313.5L463.5,313.5L463.5,345.3L495.3,347.9L495.3,308.2L506.8,308.2L506.8,317.1L512.1,317.1L512.1,306.5L519.1,306.5L519.1,291.5L541.2,295.9L541.2,326.8L550.0,326.8L550.0,372.0Z"/>
<path fill="#d4822c" d="M669.1,372.0L669.1,268.2L685.0,264.7L685.0,372.0Z"/>
<path fill="#d4822c" d="M685.0,372.0L685.0,271.2L690.3,271.2L690.3,372.0ZM765.3,372.0L765.3,344.4L796.2,340.9L796.2,302.9L805.0,302.9L805.0,295.9L808.5,295.9L808.5,293.2L819.1,293.2L819.1,292.4L829.7,297.6L829.7,292.4L839.4,292.4L839.4,278.2L844.7,278.2L844.7,283.5L850.9,283.5L850.9,290.6L866.8,288.8L866.8,279.1L898.5,279.1L898.5,290.6L917.9,300.3L917.9,301.2L931.2,301.2L931.2,289.7L939.1,289.7L939.1,372.0ZM946.2,372.0L946.2,341.8L959.4,341.8L959.4,322.7L971.8,322.7L971.8,327.6L974.4,327.6L974.4,316.5L979.2,316.5L979.2,322.4L985.0,319.2L985.0,372.0Z"/>
<path fill="#d4822c" d="M685.0,372.0L685.0,271.8L690.3,271.8L690.3,247.1L698.2,247.1L698.2,258.5L702.6,258.5L702.6,372.0ZM839.4,372.0L839.4,262.1L844.7,262.1L844.7,372.0ZM866.8,372.0L866.8,276.2L884.4,276.2L884.4,372.0ZM890.6,372.0L890.6,270.0L898.5,270.0L898.5,372.0Z"/>
<path fill="#d4822c" d="M985.0,372.0L985.0,320.9L991.5,320.9L991.5,338.2L999.1,338.2L999.1,328.5L1007.9,328.5L1007.9,339.1L1020.3,341.8L1020.3,357.6L1027.4,357.6L1027.4,352.4L1043.2,352.4L1043.2,347.1L1045.0,347.1L1045.0,356.8L1059.1,356.8L1059.1,333.8L1067.9,333.8L1067.9,310.0L1071.5,310.0L1071.5,325.0L1085.6,325.0L1085.6,313.5L1090.9,313.5L1090.9,303.8L1097.9,303.8L1097.9,319.7L1100.6,319.7L1100.6,302.9L1106.8,302.9L1106.8,309.1L1117.4,309.1L1117.4,310.0L1131.5,308.2L1131.5,303.8L1145.6,303.8L1145.6,317.9L1167.6,317.9L1167.6,301.2L1179.1,301.2L1179.1,298.5L1187.9,298.5L1187.9,306.5L1203.8,309.1L1203.8,320.6L1207.4,320.6L1207.4,308.2L1214.4,308.2L1214.4,317.1L1229.4,317.1L1232.1,359.4L1246.2,359.4L1246.2,347.1L1251.5,347.1L1251.5,350.6L1253.2,350.6L1253.2,372.0Z"/>
<path fill="#d4822c" d="M166.2,372.0L166.2,375.2L170.6,375.2L170.6,379.6L175.0,379.6L175.0,382.3L178.5,382.3L178.5,388.1L181.7,388.1L181.7,383.2L188.2,383.2L188.2,379.6L199.7,379.6L199.7,376.1L205.0,376.1L205.0,374.4L208.5,374.4L208.5,372.0ZM209.4,372.0L209.4,375.2L212.1,375.2L212.1,379.6L216.5,379.6L216.5,383.2L219.1,383.2L219.1,385.8L224.4,385.8L224.4,387.6L228.8,387.6L228.8,392.4L233.2,392.4L233.2,388.5L240.3,388.5L240.3,386.7L246.5,386.7L246.5,377.0L254.4,377.0L254.4,375.2L259.7,375.2L259.7,374.0L266.8,374.0L266.8,372.0Z"/>
<path fill="#d4822c" d="M549.1,372.0L549.1,377.0L561.5,377.0L561.5,378.8L566.8,378.8L566.8,381.1L580.0,381.1L580.0,377.5L587.9,377.5L587.9,372.0ZM617.9,372.0L617.9,376.1L626.8,376.1L626.8,374.7L636.5,374.7L636.5,372.0ZM711.5,372.0L711.5,380.5L719.4,380.5L719.4,387.6L737.9,387.6L737.9,381.4L739.7,381.4L739.7,378.8L742.4,378.8L742.4,372.0Z"/>
<path fill="#80c8d8" d="M100.5,372.0L100.5,355.9L106.2,358.5L113.2,360.8L120.3,361.5L122.9,359.8L127.4,360.8L127.4,372.0Z"/>
<path fill="#80c8d8" d="M188.9,372.0L188.9,329.9L200.9,329.9L200.9,337.9L211.1,337.9L211.1,315.3L215.0,315.3L215.0,331.2L219.4,331.2L219.4,306.5L223.5,306.5L223.5,364.0L229.1,364.0L229.1,317.9L245.9,316.2L245.9,347.9L262.6,350.6L278.5,349.7L278.5,303.8L288.2,303.8L288.2,319.7L299.4,319.7L299.4,339.1L309.4,339.1L309.4,369.1L320.5,369.1L320.5,372.0Z"/>
<path fill="#80c8d8" d="M506.8,372.0L506.8,325.0L512.1,325.0L512.1,313.5L519.1,313.5L519.1,296.8L541.2,303.8L541.2,334.7L550.0,334.7L550.0,316.2L561.5,316.2L561.5,277.0L596.8,277.0L596.8,286.2L610.9,286.2L610.9,310.0L614.4,310.0L614.4,306.5L617.9,306.5L617.9,297.6L626.8,297.6L626.8,303.8L635.6,303.8L635.6,296.8L658.5,293.2L658.5,291.5L669.1,291.5L669.1,293.2L683.2,293.2L683.2,297.6L685.0,297.6L685.0,372.0Z"/>
<path fill="#80c8d8" d="M685.0,372.0L685.0,299.4L690.3,299.4L690.3,271.7L702.6,271.7L702.6,313.5L707.9,355.9L718.5,355.9L718.5,372.0ZM829.7,372.0L829.7,321.5L839.4,321.5L839.4,292.4L844.7,292.4L844.7,302.9L854.4,301.2L854.4,296.8L886.2,295.0L886.2,297.6L889.7,297.6L889.7,302.9L898.5,304.7L898.5,320.6L917.9,324.1L917.9,330.3L931.2,330.3L931.2,316.2L939.1,316.2L939.1,313.5L946.2,317.9L946.2,344.4L960.3,344.4L960.3,340.0L970.9,340.0L970.9,346.2L978.8,350.6L978.8,372.0Z"/>
<path fill="#80c8d8" d="M685.0,372.0L685.0,299.5L690.3,299.5L690.3,271.8L702.6,271.8L702.6,372.0Z"/>
<path fill="#80c8d8" d="M992.1,372.0L992.1,350.6L999.1,350.6L999.1,349.7L1020.3,350.6L1020.3,372.0ZM1246.2,372.0L1246.2,352.4L1251.5,352.4L1251.5,372.0ZM1253.2,372.0L1253.2,343.5L1275.3,347.9L1275.3,372.0Z"/>
<path fill="#c08c6c" d="M659.4,372.0L659.4,349.7L683.2,347.1L683.2,372.0Z"/>
<path fill="#a888a4" d="M635.6,372.0L635.6,355.0L685.0,354.1L685.0,372.0Z"/>
<path fill="#a888a4" d="M685.0,372.0L685.0,313.5L702.6,315.3L707.9,359.4L707.9,360.3L755.6,357.6L755.6,349.7L796.2,347.9L796.2,331.2L805.0,331.2L805.0,325.0L829.7,328.5L829.7,329.4L839.4,329.4L839.4,302.9L844.7,302.9L844.7,324.1L854.4,324.1L854.4,321.5L886.2,316.2L886.2,311.8L898.5,313.5L898.5,326.8L917.9,330.3L917.9,337.4L931.2,337.4L931.2,372.0Z"/>
<path fill="#a8522c" d="M685.0,372.0L685.0,320.6L702.6,323.2L707.9,361.2L707.9,372.0ZM796.2,372.0L796.2,343.5L805.0,343.5L805.0,340.0L829.7,341.8L829.7,337.4L839.4,337.4L839.4,311.8L844.7,311.8L844.7,330.3L854.4,330.3L854.4,328.5L886.2,323.2L886.2,317.9L898.5,319.7L898.5,332.9L917.9,336.5L917.9,340.9L931.2,340.9L931.2,324.1L939.1,324.1L939.1,327.6L946.2,330.3L946.2,372.0Z"/>
<path fill="#a8522c" d="M985.0,372.0L985.0,348.8L992.1,348.8L992.1,372.0ZM1059.1,372.0L1059.1,338.2L1071.5,338.2L1071.5,345.3L1085.6,345.3L1085.6,340.9L1097.9,340.9L1097.9,359.4L1105.0,359.4L1105.0,362.9L1115.6,366.1L1115.6,372.0ZM1205.6,372.0L1205.6,347.9L1229.4,347.9L1229.4,364.4L1253.2,362.9L1253.2,372.0Z"/>
<path fill="#a8522c" d="M979.7,372.0L979.7,352.7L982.4,352.7L982.4,372.0Z"/>
<path fill="#d4e0ec" d="M449.4,372.0L449.4,355.9L459.1,354.1L508.5,355.9L561.5,360.3L596.8,362.1L635.6,362.9L685.0,364.2L685.0,372.0Z"/>
<path fill="#d4e0ec" d="M685.0,372.0L685.0,362.1L711.5,362.9L711.5,363.8L737.9,361.2L764.4,359.4L808.5,358.2L808.5,357.6L946.2,358.5L946.2,360.3L978.8,362.6L978.8,372.0Z"/>
<path fill="#d4e0ec" d="M985.0,372.0L985.0,355.9L992.1,355.9L992.1,355.0L995.6,355.0L995.6,357.6L1020.3,358.5L1020.3,364.7L1253.2,365.4L1253.2,358.5L1275.3,360.3L1275.3,372.0Z"/>
<path fill="#d4e0ec" d="M978.8,372.0L978.8,359.8L985.0,359.8L985.0,372.0Z"/>
<path fill="#0c8060" d="M985.0,372.0L985.0,360.3L992.1,360.3L992.1,358.5L995.6,358.5L995.6,362.1L1020.3,362.9L1020.3,372.0ZM1253.2,372.0L1253.2,363.8L1275.3,363.8L1275.3,372.0Z"/>
<path fill="#0c8060" d="M978.8,372.0L978.8,364.4L985.0,364.4L985.0,372.0Z"/>
<rect x="89" y="371" width="1187" height="1.4" fill="#a4c0e0"/>
<rect x="88" y="26" width="1.8" height="385" fill="#a9bddb"/>
<rect x="86" y="409.6" width="3" height="1.4" fill="#a9bddb"/>
<rect x="86" y="371.3" width="3" height="1.4" fill="#a9bddb"/>
<rect x="86" y="333.0" width="3" height="1.4" fill="#a9bddb"/>
<rect x="86" y="294.7" width="3" height="1.4" fill="#a9bddb"/>
<rect x="86" y="256.4" width="3" height="1.4" fill="#a9bddb"/>
<rect x="86" y="218.1" width="3" height="1.4" fill="#a9bddb"/>
<rect x="86" y="179.8" width="3" height="1.4" fill="#a9bddb"/>
<rect x="86" y="141.5" width="3" height="1.4" fill="#a9bddb"/>
<rect x="86" y="103.2" width="3" height="1.4" fill="#a9bddb"/>
<rect x="86" y="64.9" width="3" height="1.4" fill="#a9bddb"/>
<rect x="86" y="26.6" width="3" height="1.4" fill="#a9bddb"/>
<rect x="88.8" y="373.4" width="1.3" height="4.2" fill="#12357c"/>
<rect x="209.2" y="373.4" width="1.3" height="4.2" fill="#12357c"/>
<rect x="329.2" y="373.4" width="1.3" height="4.2" fill="#12357c"/>
<rect x="449.0" y="373.4" width="1.3" height="4.2" fill="#12357c"/>
<rect x="568.0" y="373.4" width="1.3" height="4.2" fill="#12357c"/>
<rect x="686.6" y="373.4" width="1.3" height="4.2" fill="#12357c"/>
<rect x="806.6" y="373.4" width="1.3" height="4.2" fill="#12357c"/>
<rect x="927.8" y="373.4" width="1.3" height="4.2" fill="#12357c"/>
<rect x="1046.1" y="373.4" width="1.3" height="4.2" fill="#12357c"/>
<rect x="1160.4" y="373.4" width="1.3" height="4.2" fill="#12357c"/>
<rect x="1274.6" y="373.4" width="1.3" height="4.2" fill="#12357c"/>
</svg>
<div class="yl" style="top:401.4px">-5</div>
<div class="yl" style="top:363.1px">0</div>
<div class="yl" style="top:324.8px">5</div>
<div class="yl" style="top:286.5px">10</div>
<div class="yl" style="top:248.2px">15</div>
<div class="yl" style="top:209.9px">20</div>
<div class="yl" style="top:171.6px">25</div>
<div class="yl" style="top:133.3px">30</div>
<div class="yl" style="top:95.0px">35</div>
<div class="yl" style="top:56.7px">40</div>
<div class="yl" style="top:18.4px">45</div>
<div class="xl" style="left:28.5px">Dec 2014</div>
<div class="xl" style="left:149.3px">Dec 2015</div>
<div class="xl" style="left:269.0px">Dec 2016</div>
<div class="xl" style="left:388.0px">Dec 2017</div>
<div class="xl" style="left:507.5px">Dec 2018</div>
<div class="xl" style="left:626.5px">Dec 2019</div>
<div class="xl" style="left:746.5px">Dec 2020</div>
<div class="xl" style="left:867.0px">Dec 2021</div>
<div class="xl" style="left:987.0px">Dec 2022</div>
<div class="xl" style="left:1101.0px">Dec 2023</div>
<div class="xl" style="left:1215.0px">Dec 2024</div>
<div class="ex">Exposure</div>
<div class="lg" style="top:16.0px"><i style="background:#fcdcc4"></i><span>Liquid Alternative Investments</span></div>
<div class="lg" style="top:38.1px"><i style="background:#a4d8ec"></i><span>Commodities</span></div>
<div class="lg" style="top:60.2px"><i style="background:#d4a82c"></i><span>Gold</span></div>
<div class="lg" style="top:82.3px"><i style="background:#d3dfd8"></i><span>CO2 European Emission Allowances</span></div>
<div class="lg" style="top:104.4px"><i style="background:#848484"></i><span>Subordinated Bonds</span></div>
<div class="lg" style="top:126.5px"><i style="background:#c2c2c2"></i><span>Inflation-linked Bonds</span></div>
<div class="lg" style="top:148.5px"><i style="background:#80bc98"></i><span>High Yield Bonds</span></div>
<div class="lg" style="top:170.6px"><i style="background:#78ccc8"></i><span>CAT Bonds</span></div>
<div class="lg" style="top:192.7px"><i style="background:#9cc0e4"></i><span>EM Bonds</span></div>
<div class="lg" style="top:214.8px"><i style="background:#c0c0c0"></i><span>Value-Growth Pairs Trade</span></div>
<div class="lg" style="top:236.9px"><i style="background:#fcd48c"></i><span>US Tech Stocks</span></div>
<div class="lg" style="top:259.0px"><i style="background:#f4b084"></i><span>US Small Caps</span></div>
<div class="lg" style="top:281.1px"><i style="background:#2c5c6c"></i><span>Listed Private Equity</span></div>
<div class="lg" style="top:303.2px"><i style="background:#a04060"></i><span>US Sustainable Equities</span></div>
<div class="lg" style="top:325.3px"><i style="background:#3484cc"></i><span>EM Equities</span></div>
<div class="lg" style="top:347.4px"><i style="background:#e0e8ec"></i><span>Latin America Equities</span></div>
<div class="lg" style="top:369.4px"><i style="background:#d4822c"></i><span>Japan Equities</span></div>
<div class="lg" style="top:391.5px"><i style="background:#80c8d8"></i><span>Real Estate Equities</span></div>
<div class="lg" style="top:413.6px"><i style="background:#c08c6c"></i><span>Global Gold Mining Equities</span></div>
<div class="lg" style="top:435.7px"><i style="background:#a888a4"></i><span>Global Fintech Equities</span></div>
<div class="lg" style="top:457.8px"><i style="background:#a8522c"></i><span>Euro Sustainable Equities</span></div>
<div class="lg" style="top:479.9px"><i style="background:#d4e0ec"></i><span>Euro Micro Cap Equities</span></div>
<div class="lg" style="top:502.0px"><i style="background:#0c8060"></i><span>China Equities</span></div>
</body></html>
